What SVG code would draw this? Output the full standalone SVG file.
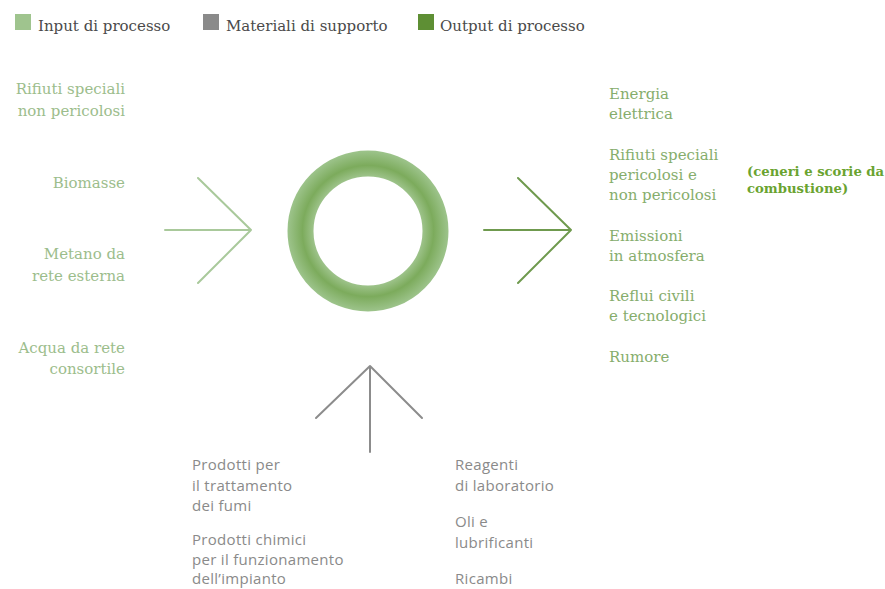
<svg xmlns="http://www.w3.org/2000/svg" width="885" height="589" viewBox="0 0 885 589">
<defs>
<radialGradient id="ring" cx="368" cy="231" r="80" gradientUnits="userSpaceOnUse">
<stop offset="0.66" stop-color="#a3c792"/>
<stop offset="0.82" stop-color="#7cab5c"/>
<stop offset="1" stop-color="#9cc38a"/>
</radialGradient>
</defs>
<style>
.leg{font-family:"DejaVu Serif",serif;font-size:15px;fill:#4a4a4a}
.in{font-family:"DejaVu Serif",serif;font-size:15px;fill:#9cbd8c;text-anchor:end}
.out{font-family:"DejaVu Serif",serif;font-size:15px;fill:#86ad6c}
.note{font-family:"DejaVu Serif",serif;font-size:13.2px;font-weight:bold;fill:#6aa330}
.sup{font-family:"Open Sans",sans-serif;font-size:15px;letter-spacing:0.3px;fill:#8a8a8a}
.a{fill:none;stroke-width:2;stroke-linecap:round;stroke-linejoin:round}
</style>
<rect width="885" height="589" fill="#fff"/>
<g id="legend">
<rect x="15" y="14" width="16" height="16" fill="#9fc48e"/>
<text class="leg" x="38" y="31">Input di processo</text>
<rect x="203" y="14" width="16" height="16" fill="#8a8a8a"/>
<text class="leg" x="226" y="31">Materiali di supporto</text>
<rect x="418" y="14" width="16" height="16" fill="#5e8f34"/>
<text class="leg" x="440" y="31">Output di processo</text>
</g>
<g id="inputs">
<text class="in" x="125" y="94">Rifiuti speciali</text>
<text class="in" x="125" y="116">non pericolosi</text>
<text class="in" x="125" y="188">Biomasse</text>
<text class="in" x="125" y="259">Metano da</text>
<text class="in" x="125" y="281">rete esterna</text>
<text class="in" x="125" y="353">Acqua da rete</text>
<text class="in" x="125" y="374">consortile</text>
</g>
<g id="process">
<circle cx="368" cy="231" r="67.5" fill="none" stroke="url(#ring)" stroke-width="26"/>
</g>
<g id="outputs">
<text class="out" x="609" y="99">Energia</text>
<text class="out" x="609" y="119">elettrica</text>
<text class="out" x="609" y="160">Rifiuti speciali</text>
<text class="out" x="609" y="180">pericolosi e</text>
<text class="out" x="609" y="200">non pericolosi</text>
<text class="out" x="609" y="241">Emissioni</text>
<text class="out" x="609" y="261">in atmosfera</text>
<text class="out" x="609" y="301">Reflui civili</text>
<text class="out" x="609" y="321">e tecnologici</text>
<text class="out" x="609" y="362">Rumore</text>
<text class="note" x="747" y="176">(ceneri e scorie da</text>
<text class="note" x="747" y="193">combustione)</text>
</g>
<g id="support">
<text class="sup" x="192" y="470">Prodotti per</text>
<text class="sup" x="192" y="491">il trattamento</text>
<text class="sup" x="192" y="511">dei fumi</text>
<text class="sup" x="192" y="545">Prodotti chimici</text>
<text class="sup" x="192" y="565">per il funzionamento</text>
<text class="sup" x="192" y="584">dell’impianto</text>
<text class="sup" x="455" y="470">Reagenti</text>
<text class="sup" x="455" y="491">di laboratorio</text>
<text class="sup" x="455" y="527">Oli e</text>
<text class="sup" x="455" y="548">lubrificanti</text>
<text class="sup" x="455" y="584">Ricambi</text>
</g>
<g id="connectors">
<path class="a" stroke="#a9c99b" d="M165 230H251M198 178L251 230L198 283"/>
<path class="a" stroke="#6f9a4e" d="M484 230H571M518 178L571 230L518 283"/>
<path class="a" stroke="#8c8c8c" d="M370 452V366M316 418L370 366L422 418"/>
</g>
</svg>
